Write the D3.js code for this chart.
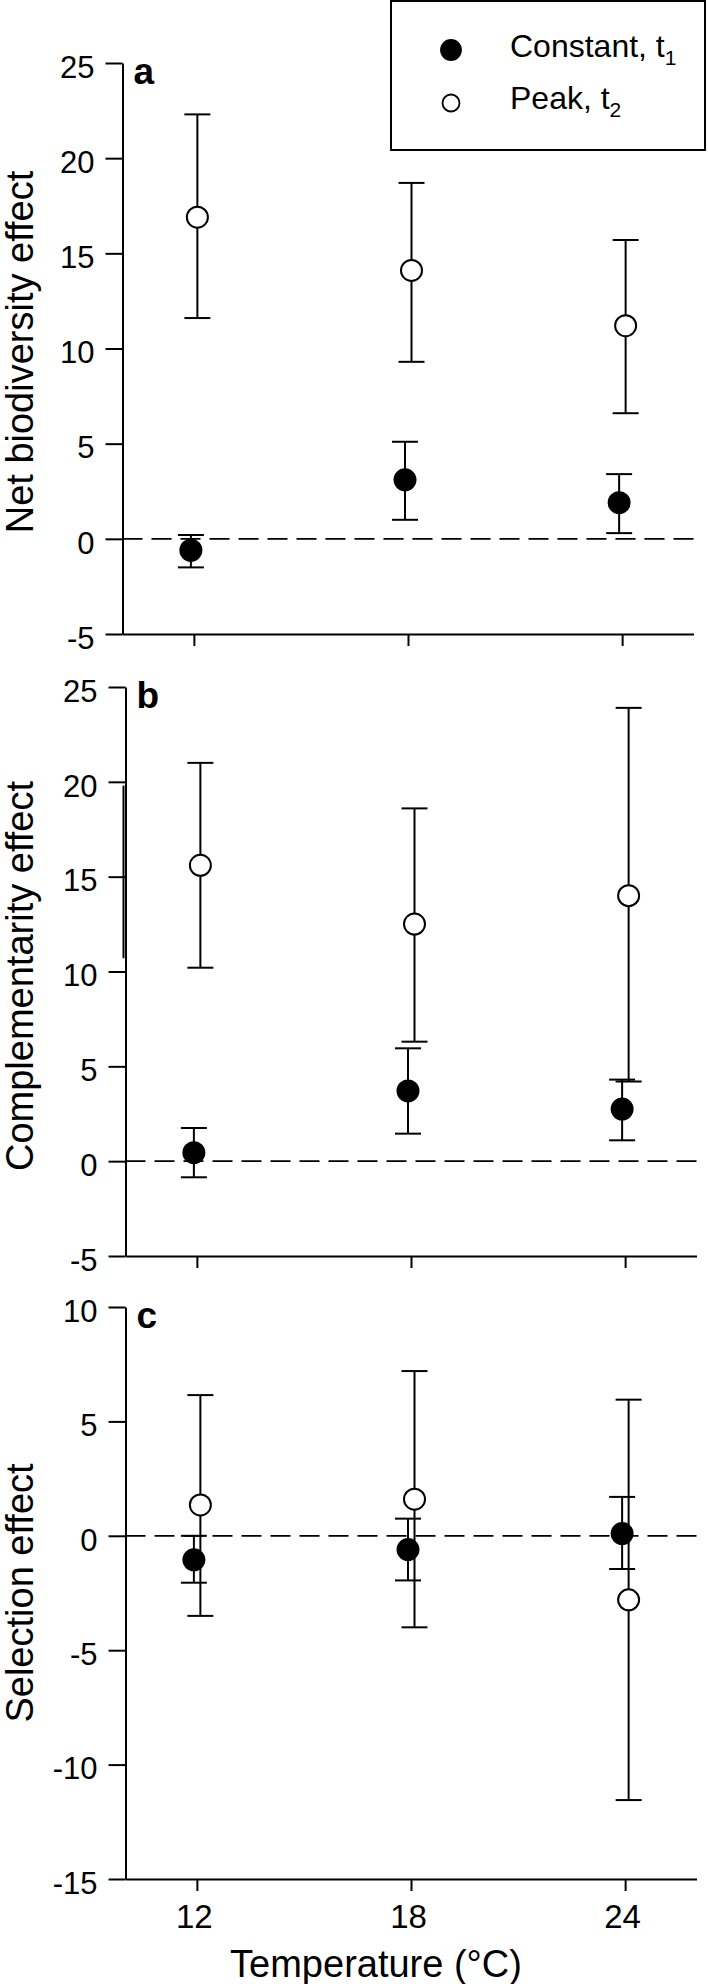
<!DOCTYPE html>
<html>
<head>
<meta charset="utf-8">
<script src="https://cdn.jsdelivr.net/npm/d3@7"></script>
<style>
  body { margin: 0; background: #fff; }
  svg { display: block; font-family: "Liberation Sans", Arial, sans-serif; }
  .axis path, .axis line { stroke: #000; stroke-width: 2px; }
  .axis text { font-size: 31px; fill: #000; }
</style>
</head>
<body>
<svg id="chart" width="708" height="1984"></svg>
<script>
// temperatures (x categories)
var temps = [12, 18, 24];

// panel a: net biodiversity effect
var nbeConst = [-0.6, 3.1, 1.9];
var nbeConstLo = [-1.5, 1.0, 0.3];
var nbeConstHi = [0.2, 5.1, 3.4];
var nbePeak = [16.9, 14.1, 11.2];
var nbePeakLo = [11.6, 9.3, 6.6];
var nbePeakHi = [22.3, 18.7, 15.7];

// panel b: complementarity effect
var ceConst = [0.45, 3.7, 2.75];
var ceConstLo = [-0.85, 1.45, 1.1];
var ceConstHi = [1.75, 5.95, 4.3];
var cePeak = [15.6, 12.5, 14.0];
var cePeakLo = [10.2, 6.3, 4.2];
var cePeakHi = [21.0, 18.6, 23.9];

// panel c: selection effect
var seConst = [-1.05, -0.6, 0.1];
var seConstLo = [-2.05, -1.95, -1.45];
var seConstHi = [0.0, 0.75, 1.7];
var sePeak = [1.35, 1.6, -2.8];
var sePeakLo = [-3.5, -4.0, -11.55];
var sePeakHi = [6.15, 7.2, 5.95];

// tick labels
var ticksAB = [-5, 0, 5, 10, 15, 20, 25];
var ticksC = [-15, -10, -5, 0, 5, 10];

var svg = d3.select('#chart');

var panels = [
  {letter: 'a', title: 'Net biodiversity effect', top: 63, bottom: 634, left: 122.5, titleY: 352,
   domain: [-5, 25], ticks: ticksAB, xlabels: false,
   c: nbeConst, cLo: nbeConstLo, cHi: nbeConstHi, p: nbePeak, pLo: nbePeakLo, pHi: nbePeakHi},
  {letter: 'b', title: 'Complementarity effect', top: 687, bottom: 1256, left: 125.5, titleY: 976,
   domain: [-5, 25], ticks: ticksAB, xlabels: false,
   c: ceConst, cLo: ceConstLo, cHi: ceConstHi, p: cePeak, pLo: cePeakLo, pHi: cePeakHi},
  {letter: 'c', title: 'Selection effect', top: 1307, bottom: 1879, left: 125.5, titleY: 1593,
   domain: [-15, 10], ticks: ticksC, xlabels: true,
   c: seConst, cLo: seConstLo, cHi: seConstHi, p: sePeak, pLo: sePeakLo, pHi: sePeakHi}
];

var capW = 26;
// plain hyphen for negatives, like the original
var fmt = function(d){ return String(d); };

panels.forEach(function(pn, k){
    var x = d3.scaleLinear().domain([10, 26]).range([pn.left, pn.left + 571]);
    var y = d3.scaleLinear().domain(pn.domain).range([pn.bottom, pn.top]);

    // dashed zero line
    svg.append('line')
        .attr('x1', x(10)).attr('x2', x(26) + (k == 2 ? 8 : 0))
        .attr('y1', y(0)).attr('y2', y(0))
        .attr('stroke', '#000').attr('stroke-width', 1.8)
        .attr('stroke-dasharray', '20,9');

    // y axis
    svg.append('g')
        .attr('class', 'axis')
        .attr('transform', 'translate(' + x(10) + ',0)')
        .call(d3.axisLeft(y).tickValues(pn.ticks).tickSize(17).tickSizeOuter(0).tickPadding(11)
              .tickFormat(fmt))
        .selectAll('text').attr('dy', '0.46em');

    // x axis
    svg.append('g')
        .attr('class', 'axis')
        .attr('transform', 'translate(0,' + y(pn.domain[0]) + ')')
        .call(d3.axisBottom(x).tickValues(temps).tickSize(12).tickSizeOuter(0).tickPadding(14)
              .tickFormat(pn.xlabels ? fmt : ''))
        .selectAll('text').style('font-size', '33px').attr('dx', -3);

    // scan artifact on panel b's axis
    if (k == 1){
        svg.append('line')
            .attr('x1', x(10) - 2).attr('x2', x(10) - 2)
            .attr('y1', y(19.8)).attr('y2', y(10.7))
            .attr('stroke', '#000').attr('stroke-width', 2);
    }

    // panel letter
    svg.append('text')
        .attr('x', x(10) + 11)
        .attr('y', pn.top + 21)
        .attr('font-size', 37)
        .attr('font-weight', 'bold')
        .text(pn.letter);

    // y title
    svg.append('text')
        .attr('transform', 'translate(33,' + pn.titleY + ') rotate(-90)')
        .attr('text-anchor', 'middle')
        .attr('font-size', 38)
        .text(pn.title);

    // error bars + points, constant (filled) shifted left, peak (open) right
    var series = [
        {m: pn.c, lo: pn.cLo, hi: pn.cHi, dx: -3, fill: '#000'},
        {m: pn.p, lo: pn.pLo, hi: pn.pHi, dx: 3.5, fill: '#fff'}
    ];
    series.forEach(function(s){
        temps.forEach(function(t, i){
            var cx = x(t) + s.dx;
            var g = svg.append('g').attr('stroke', '#000').attr('stroke-width', 2);
            g.append('line').attr('x1', cx).attr('x2', cx).attr('y1', y(s.lo[i])).attr('y2', y(s.hi[i]));
            g.append('line').attr('x1', cx - capW/2).attr('x2', cx + capW/2).attr('y1', y(s.lo[i])).attr('y2', y(s.lo[i]));
            g.append('line').attr('x1', cx - capW/2).attr('x2', cx + capW/2).attr('y1', y(s.hi[i])).attr('y2', y(s.hi[i]));
        });
    });
    series.forEach(function(s){
        temps.forEach(function(t, i){
            svg.append('circle')
                .attr('cx', x(t) + s.dx)
                .attr('cy', y(s.m[i]))
                .attr('r', 10.5)
                .attr('fill', s.fill)
                .attr('stroke', '#000')
                .attr('stroke-width', 2);
        });
    });

    // x title on last panel
    if (pn.xlabels){
        svg.append('text')
            .attr('x', 376)
            .attr('y', 1977)
            .attr('text-anchor', 'middle')
            .attr('font-size', 38)
            .text('Temperature (\u00B0C)');
    }
});

// legend
var legend = svg.append('g');
legend.append('rect')
    .attr('x', 391).attr('y', 1)
    .attr('width', 314).attr('height', 149)
    .attr('fill', '#fff').attr('stroke', '#000').attr('stroke-width', 2);

var legendItems = [
    {label: 'Constant, t', sub: '1', fill: '#000', r: 10, cy: 50, base: 57},
    {label: 'Peak, t', sub: '2', fill: '#fff', r: 8.5, cy: 103, base: 109}
];
legendItems.forEach(function(d){
    legend.append('circle')
        .attr('cx', 451).attr('cy', d.cy).attr('r', d.r)
        .attr('fill', d.fill).attr('stroke', '#000').attr('stroke-width', 1.8);
    var t = legend.append('text')
        .attr('x', 510).attr('y', d.base)
        .attr('font-size', 32);
    t.append('tspan').text(d.label);
    t.append('tspan').attr('font-size', 21).attr('dy', 8).text(d.sub);
});
</script>
</body>
</html>
